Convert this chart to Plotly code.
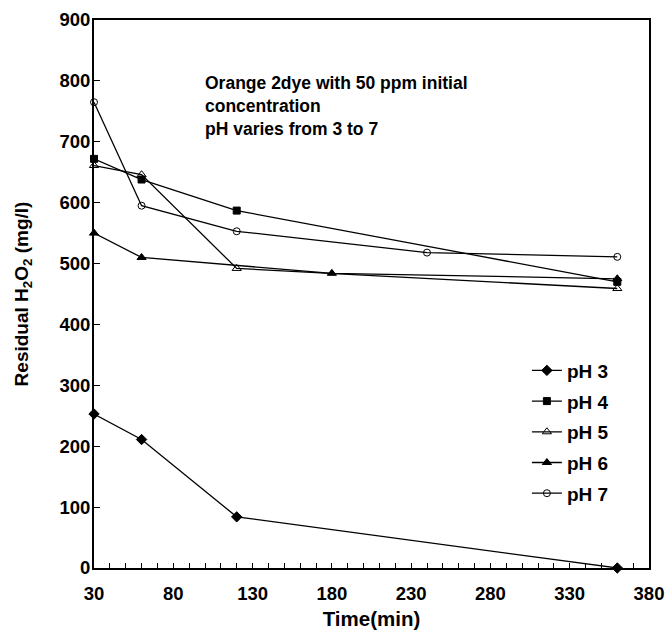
import plotly.graph_objects as go

time_ph3 = [30, 60, 120, 360]
res_ph3 = [253, 211, 84, 0]
time_ph4 = [30, 60, 120, 360]
res_ph4 = [672, 638, 587, 470]
time_ph5 = [30, 60, 120, 360]
res_ph5 = [661, 646, 492, 459]
time_ph6 = [30, 60, 180, 360]
res_ph6 = [550, 510, 484, 475]
time_ph7 = [30, 60, 120, 240, 360]
res_ph7 = [765, 595, 553, 518, 511]

series = [
    ("pH 3", time_ph3, res_ph3, "diamond", 8),
    ("pH 4", time_ph4, res_ph4, "square", 7),
    ("pH 5", time_ph5, res_ph5, "triangle-up-open", 8),
    ("pH 6", time_ph6, res_ph6, "triangle-up", 8),
    ("pH 7", time_ph7, res_ph7, "circle-open", 7),
]

x_ticks = [30, 80, 130, 180, 230, 280, 330, 380]
y_ticks = [0, 100, 200, 300, 400, 500, 600, 700, 800, 900]

FONT = "Liberation Sans, Arial, sans-serif"

fig = go.Figure()
for i, (name, xs, ys, sym, sz) in enumerate(series):
    fig.add_trace(go.Scatter(
        x=xs, y=ys, name=name, mode="lines+markers",
        line=dict(color="black", width=1.3),
        marker=dict(symbol=sym, size=sz, color="black",
                    line=dict(color="black", width=1)),
        cliponaxis=False, legendgroup=f"g{i}",
    ))

fig.update_layout(
    width=667, height=630,
    margin=dict(l=94, r=18, t=20, b=62),
    plot_bgcolor="white", paper_bgcolor="white",
    font=dict(family=FONT, color="black"),
    showlegend=True,
    legend=dict(
        x=0.78, y=0.395, xanchor="left", yanchor="top",
        font=dict(size=19, weight="bold", family=FONT),
        bgcolor="rgba(0,0,0,0)", tracegroupgap=3,
        itemwidth=30,
    ),
    annotations=[dict(
        x=99, y=816, xref="x", yref="y", xanchor="left", yanchor="top",
        align="left", showarrow=False,
        text="Orange 2dye with 50 ppm initial<br>concentration<br>pH varies from 3 to 7",
        font=dict(size=17.5, weight="bold", family=FONT),
    )],
)

fig.update_xaxes(
    range=[30, 380], tickvals=x_ticks, ticktext=[str(v) for v in x_ticks],
    ticks="inside", ticklen=5, tickwidth=1.2, tickcolor="black",
    minor=dict(tick0=30, dtick=10, ticks="inside", ticklen=5, tickwidth=1.2, tickcolor="black"),
    showline=True, linecolor="black", linewidth=2, mirror=True,
    showgrid=False, zeroline=False,
    tickfont=dict(size=18.5, weight="bold", family=FONT),
    ticklabelstandoff=8,
    title=dict(text="Time(min)", font=dict(size=20.5, weight="bold", family=FONT), standoff=11),
    automargin=False,
)
fig.update_yaxes(
    range=[0, 900], tickvals=y_ticks, ticktext=[str(v) for v in y_ticks],
    ticks="inside", ticklen=6, tickwidth=1.2, tickcolor="black",
    showline=True, linecolor="black", linewidth=2, mirror=True,
    showgrid=False, zeroline=False,
    tickfont=dict(size=18.5, weight="bold", family=FONT),
    ticklabelstandoff=-2,
    title=dict(text="Residual H<sub>2</sub>O<sub>2</sub> (mg/l)",
               font=dict(size=19, weight="bold", family=FONT), standoff=26),
    automargin=False,
)

fig.write_html("out.html")
